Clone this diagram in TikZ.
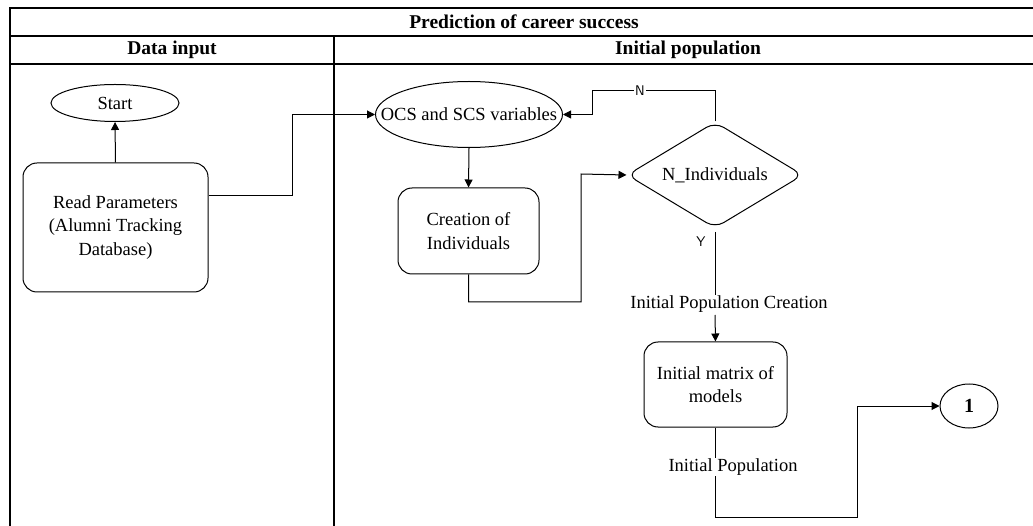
\documentclass[tikz,border=0pt]{standalone}
\usepackage{fontspec}
\setmainfont{Liberation Serif}
\usetikzlibrary{shapes.geometric,arrows.meta}
\begin{document}
\begin{tikzpicture}[x=1pt,y=-1pt,
  font=\fontsize{18.5}{23.5}\selectfont,
  head/.style={font=\fontsize{19.5}{22}\selectfont\bfseries},
  lane/.style={line width=1.1pt},
  proc/.style={draw,line width=1pt,rounded corners=14pt,align=center,inner sep=0pt},
  oval/.style={draw,line width=1pt,ellipse,inner sep=0pt},
  decision/.style={draw,line width=1pt,diamond,rounded corners=10pt,inner sep=0pt},
  flow/.style={line width=1pt,-{Triangle[length=8pt,width=8pt]}},
  link/.style={line width=1pt},
  elabel/.style={fill=white,inner sep=1pt},
  letter/.style={font=\sffamily\fontsize{14}{16}\selectfont}]
\useasboundingbox (0,0) rectangle (1033,526);

% swimlane frame
\draw[lane] (1033,8) -- (10,8) -- (10,526);
\draw[lane] (10,36) -- (1033,36);
\draw[lane] (10,64) -- (1033,64);
\draw[lane] (334,36) -- (334,526);
\node[head] (title) at (524,22) {Prediction of career success};
\node[head] (lane1) at (172,50) {Data input};
\node[head] (lane2) at (688,50) {Initial population};

% data input lane
\node[oval,minimum width=128pt,minimum height=37pt] (start) at (115,103) {Start};
\node[proc,minimum width=185pt,minimum height=129pt] (read) at (115.5,227.5)
  {Read Parameters\\(Alumni Tracking\\Database)};

% initial population lane
\node[oval,minimum width=187pt,minimum height=66pt] (vars) at (469,114.5)
  {\makebox[0pt]{OCS and SCS variables}};
\node[proc,minimum width=141pt,minimum height=86pt] (create) at (468.5,231) {Creation of\\Individuals};
\node[decision,minimum width=176pt,minimum height=106pt,aspect=1.66] (count) at (715,175) {N\_Individuals};
\node[proc,minimum width=143pt,minimum height=85pt] (matrix) at (715.5,384.5) {Initial matrix of\\models};
\node[oval,minimum width=58pt,minimum height=44pt] (conn) at (969,406)
  {\fontsize{20}{22}\selectfont\bfseries 1};

% connectors
\draw[flow] (read.north) -- (start.south);
\draw[flow] (read.east |- 0,196) -- (292,196) -- (292,114.5) -- (vars.west);
\draw[flow] (vars.south) -- (create.north);
\draw[flow] (create.south) -- (468.5,302) -- (581,302) -- (581,174) -- (count.west);
\draw[flow] (count.north) -- (715,91) -- (592,91) -- (592,114.5) -- (vars.east);
\node[elabel,letter] (nlab) at (640,91) {N};
\coordinate (ytop) at (715,232);
\draw[link] (ytop) -- (715,300);
\node[letter] (ylab) at (701,242) {Y};
\node[elabel] (plab) at (729,304) {Initial Population Creation};
\draw[flow] (715,315) -- (matrix.north);
\draw[flow] (matrix.south) -- (715.5,517) -- (857,517) -- (857,406) -- (conn.west);
\node[elabel] (ilab) at (733,467) {Initial Population};
\end{tikzpicture}
\end{document}
